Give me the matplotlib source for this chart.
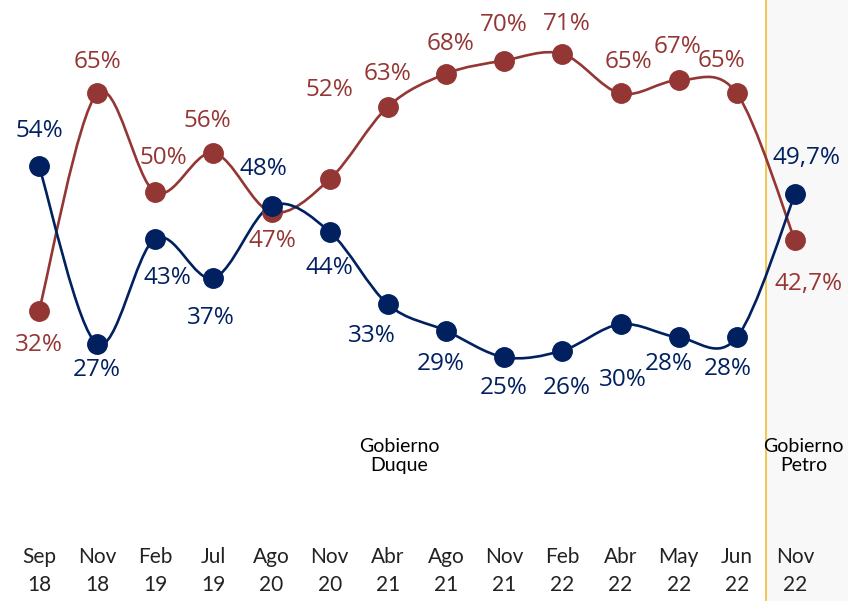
import matplotlib
matplotlib.use("Agg")
import matplotlib.pyplot as plt
from matplotlib.path import Path
from matplotlib.patches import PathPatch
import numpy as np

periods = ["Sep\n18", "Nov\n18", "Feb\n19", "Jul\n19", "Ago\n20", "Nov\n20", "Abr\n21",
           "Ago\n21", "Nov\n21", "Feb\n22", "Abr\n22", "May\n22", "Jun\n22", "Nov\n22"]
blue_vals = [54, 27, 43, 37, 48, 44, 33, 29, 25, 26, 30, 28, 28, 49.7]
red_vals = [32, 65, 50, 56, 47, 52, 63, 68, 70, 71, 65, 67, 65, 42.7]
blue_labels = ["54%", "27%", "43%", "37%", "48%", "44%", "33%", "29%", "25%", "26%",
               "30%", "28%", "28%", "49,7%"]
red_labels = ["32%", "65%", "50%", "56%", "47%", "52%", "63%", "68%", "70%", "71%",
              "65%", "67%", "65%", "42,7%"]

BLUE = "#002060"
RED = "#943634"

# label offsets in pixels (dx, dy), dy positive = up
blue_off = [(0, 35), (0, -26), (12, -39), (-3, -40), (-8, 37), (0, -36), (-16, -32), (-5, -33),
            (-1, -31), (4, -37), (2, -56), (-10, -27), (-9, -32), (12, 36)]
red_off = [(0, -34), (0, 31), (8, 34), (-6, 32), (1, -29), (0, 89), (0, 33), (4, 30),
           (0, 36), (4, 30), (8, 31), (-1, 33), (-15, 32), (14, -44)]


def smooth_path(xs, ys):
    pts = np.column_stack([xs, ys]).astype(float)
    n = len(pts)
    verts = [pts[0]]
    codes = [Path.MOVETO]
    for i in range(n - 1):
        p0 = pts[max(i - 1, 0)]
        p1 = pts[i]
        p2 = pts[i + 1]
        p3 = pts[min(i + 2, n - 1)]
        c1 = p1 + (p2 - p0) / 6.0
        c2 = p2 - (p3 - p1) / 6.0
        verts += [c1, c2, p2]
        codes += [Path.CURVE4] * 3
    return Path(verts, codes)


W, H = 848, 601
fig = plt.figure(figsize=(W / 100, H / 100), dpi=100)
ax = fig.add_axes([0, 0, 1, 1])

px_per_x = 756 / 13
x0_px = 39
px_per_y = 178 / 27
y54_px = 166
ax.set_xlim(-x0_px / px_per_x, (W - x0_px) / px_per_x)
ax.set_ylim(54 - (H - y54_px) / px_per_y, 54 + y54_px / px_per_y)


def ypix(p):
    # data y for a pixel row from the top
    return 54 - (p - y54_px) / px_per_y


x = np.arange(len(periods))
ax.axvspan(12.5, ax.get_xlim()[1], color="#f8f8f8", zorder=0)
ax.axvline(12.5, color="#f5c342", lw=1.3, zorder=1)

for vals, color in ((red_vals, RED), (blue_vals, BLUE)):
    ax.add_patch(PathPatch(smooth_path(x, vals), fill=False, edgecolor=color, lw=1.9, zorder=2))
    ax.plot(x, vals, "o", color=color, ms=14, zorder=3)

pt = 72 / 100
for vals, labels, offs, color in ((blue_vals, blue_labels, blue_off, BLUE),
                                  (red_vals, red_labels, red_off, RED)):
    for xi, v, lab, (dx, dy) in zip(x, vals, labels, offs):
        ax.annotate(lab, (xi, v), xytext=(dx * pt, dy * pt), textcoords="offset points",
                    ha="center", va="center", color=color, fontsize=17.5,
                    family=["Open Sans", "DejaVu Sans"], zorder=4)

ax.text(6.2, ypix(456), "Gobierno\nDuque", ha="center", va="center", fontsize=14,
        family="Lato", linespacing=1.2)
ax.text(13.15, ypix(456), "Gobierno\nPetro", ha="center", va="center", fontsize=14,
        family="Lato", linespacing=1.2)

for xi, lab in zip(x, periods):
    ax.text(xi, ypix(571), lab, ha="center", va="center", fontsize=15, family="Lato",
            linespacing=1.5, color="#222222")

ax.set_xticks([])
ax.set_yticks([])
for s in ax.spines.values():
    s.set_visible(False)

fig.savefig("out.png", dpi=100)
